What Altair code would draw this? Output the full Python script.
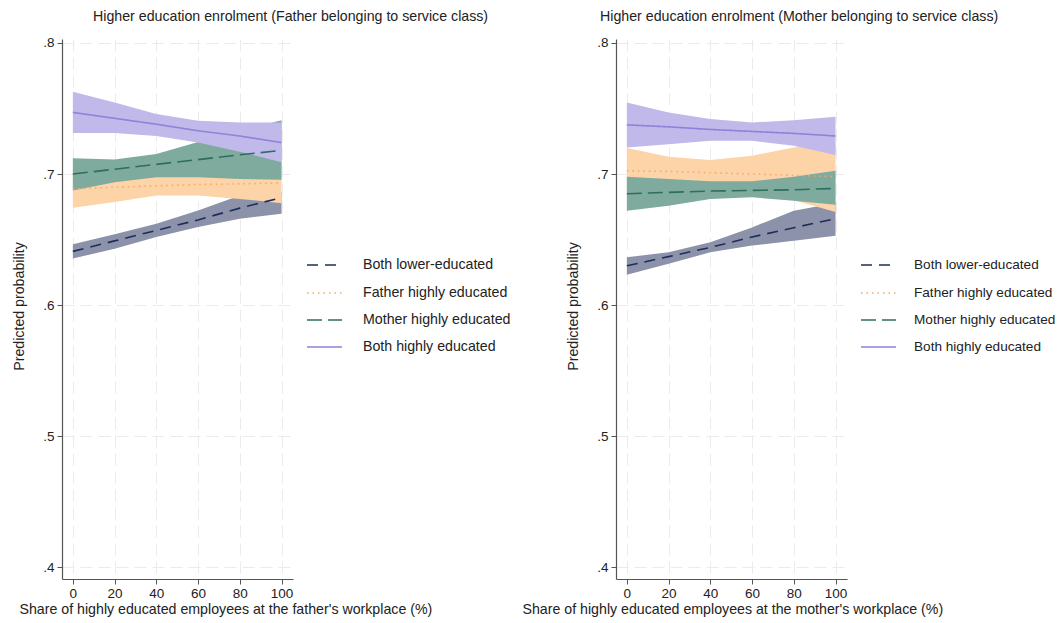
import altair as alt
import pandas as pd

x_vals = [0, 20, 40, 60, 80, 100]
series = ["Both lower-educated", "Father highly educated",
          "Mother highly educated", "Both highly educated"]
y_ticks = [0.4, 0.5, 0.6, 0.7, 0.8]

# Left panel: father belonging to service class
fa_low_mean = [0.641, 0.649, 0.657, 0.665, 0.674, 0.682]
fa_low_lo = [0.6355, 0.6431, 0.652, 0.6596, 0.6659, 0.6697]
fa_low_hi = [0.6464, 0.654, 0.6621, 0.6722, 0.6837, 0.6862]
fa_fat_mean = [0.6887, 0.690, 0.691, 0.692, 0.6925, 0.6933]
fa_fat_lo = [0.6743, 0.6786, 0.6837, 0.6837, 0.681, 0.6778]
fa_fat_hi = [0.703, 0.701, 0.6985, 0.700, 0.704, 0.709]
fa_mot_mean = [0.700, 0.7037, 0.7074, 0.711, 0.7147, 0.718]
fa_mot_lo = [0.6875, 0.6938, 0.6976, 0.6976, 0.6963, 0.6956]
fa_mot_hi = [0.712, 0.711, 0.7153, 0.7245, 0.733, 0.741]
fa_both_mean = [0.747, 0.7425, 0.738, 0.733, 0.729, 0.724]
fa_both_lo = [0.7313, 0.7313, 0.729, 0.724, 0.717, 0.709]
fa_both_hi = [0.7627, 0.7546, 0.7458, 0.7407, 0.7394, 0.7394]

# Right panel: mother belonging to service class
mo_low_mean = [0.630, 0.637, 0.644, 0.652, 0.659, 0.666]
mo_low_lo = [0.6231, 0.6315, 0.6403, 0.6454, 0.6492, 0.653]
mo_low_hi = [0.6365, 0.6403, 0.6479, 0.6593, 0.672, 0.678]
mo_fat_mean = [0.7025, 0.702, 0.701, 0.700, 0.699, 0.698]
mo_fat_lo = [0.686, 0.689, 0.690, 0.687, 0.680, 0.671]
mo_fat_hi = [0.7198, 0.7132, 0.7107, 0.714, 0.7203, 0.724]
mo_mot_mean = [0.685, 0.686, 0.687, 0.6875, 0.688, 0.689]
mo_mot_lo = [0.672, 0.6759, 0.681, 0.6822, 0.6797, 0.6766]
mo_mot_hi = [0.698, 0.6962, 0.6944, 0.6944, 0.698, 0.7025]
mo_both_mean = [0.7375, 0.736, 0.734, 0.7325, 0.731, 0.729]
mo_both_lo = [0.7203, 0.7228, 0.7254, 0.7254, 0.7216, 0.7145]
mo_both_hi = [0.7545, 0.7469, 0.7419, 0.7393, 0.7411, 0.7436]

line_colors = ["#1f2d57", "#f3a869", "#2f6e5d", "#8d83d8"]
band_colors = ["#8b92aa", "#fdd3a8", "#7faa9e", "#c0b9e9"]
dashes = [[11, 7], [1.5, 4], [15, 6], [1, 0]]

FONT = "Liberation Sans"
LEG_ROWS = [226, 254, 281, 308]


def make_df(groups):
    rows = []
    for name, (m, lo, hi) in zip(series, groups):
        for i, xv in enumerate(x_vals):
            rows.append({"x": xv, "series": name, "mean": m[i], "lo": lo[i], "hi": hi[i]})
    return pd.DataFrame(rows)


legend_df = pd.DataFrame({"series": series})


def panel(df, title_text, xtitle, title_dx, xtitle_x, leg_label_x, leg_font):
    xscale = alt.Scale(domain=[-5.2, 105.5], nice=False, zero=False)
    yscale = alt.Scale(domain=[0.3911, 0.803], nice=False, zero=False)
    xaxis = alt.Axis(values=x_vals, title=xtitle, titleX=xtitle_x, titleAnchor="start",
                     titleAlign="left", titleY=23, titleBaseline="top", labelPadding=2)
    yaxis = alt.Axis(values=y_ticks, title="Predicted probability",
                     labelExpr="substring(format(datum.value, '.1f'), 1)",
                     titleX=-43, titleY=267, titleAlign="center", titleBaseline="middle",
                     labelPadding=3)
    fill_scale = alt.Scale(domain=series, range=band_colors)
    color_scale = alt.Scale(domain=series, range=line_colors)
    dash_scale = alt.Scale(domain=series, range=dashes)
    layers = []
    for s in series:
        layers.append(
            alt.Chart(df).transform_filter(alt.datum.series == s).mark_area(opacity=1).encode(
                x=alt.X("x:Q", scale=xscale, axis=xaxis),
                y=alt.Y("lo:Q", scale=yscale, axis=yaxis),
                y2="hi:Q",
                fill=alt.Fill("series:N", scale=fill_scale, legend=None),
            )
        )
    layers.append(
        alt.Chart(df).mark_line(strokeWidth=1.6).encode(
            x=alt.X("x:Q", scale=xscale, axis=xaxis),
            y=alt.Y("mean:Q", scale=yscale, axis=yaxis),
            color=alt.Color("series:N", scale=color_scale, legend=None),
            strokeDash=alt.StrokeDash("series:N", scale=dash_scale, legend=None),
        )
    )
    # legend drawn from the same colour / dash scales
    for s, ry in zip(series, LEG_ROWS):
        base = alt.Chart(legend_df).transform_filter(alt.datum.series == s)
        layers.append(
            base.mark_rule(strokeWidth=1.6).encode(
                x=alt.value(245), x2=alt.value(280), y=alt.value(ry),
                color=alt.Color("series:N", scale=color_scale, legend=None),
                strokeDash=alt.StrokeDash("series:N", scale=dash_scale, legend=None),
            )
        )
        layers.append(
            base.mark_text(align="left", baseline="middle", font=FONT, fontSize=leg_font,
                           color="#222222").encode(
                x=alt.value(leg_label_x), y=alt.value(ry), text="series:N",
            )
        )
    return alt.layer(*layers).properties(
        width=231, height=540,
        title=alt.TitleParams(title_text, anchor="start", frame="group", dx=title_dx, offset=12,
                              fontSize=14.2, fontWeight="normal", font=FONT, color="#222222"),
    )


df_f = make_df([(fa_low_mean, fa_low_lo, fa_low_hi), (fa_fat_mean, fa_fat_lo, fa_fat_hi),
                (fa_mot_mean, fa_mot_lo, fa_mot_hi), (fa_both_mean, fa_both_lo, fa_both_hi)])
df_m = make_df([(mo_low_mean, mo_low_lo, mo_low_hi), (mo_fat_mean, mo_fat_lo, mo_fat_hi),
                (mo_mot_mean, mo_mot_lo, mo_mot_hi), (mo_both_mean, mo_both_lo, mo_both_hi)])

left = panel(df_f, "Higher education enrolment (Father belonging to service class)",
             "Share of highly educated employees at the father's workplace (%)", 31, -43, 301, 14.2)
right = panel(df_m, "Higher education enrolment (Mother belonging to service class)",
              "Share of highly educated employees at the mother's workplace (%)", -16, -94, 298, 13.6)

chart = alt.hconcat(left, right, spacing=323, bounds="flush").resolve_scale(
    x="independent", y="independent", color="independent", strokeDash="independent", fill="independent"
).properties(
    padding={"left": 4, "top": 1, "right": 0, "bottom": 0}
).configure_view(stroke=None).configure_axis(
    labelFont=FONT, titleFont=FONT, labelFontSize=13.5, titleFontSize=14.2,
    labelColor="#222222", titleColor="#222222", titleFontWeight="normal",
    domainColor="#555555", tickColor="#555555", tickSize=5, domainWidth=1.2,
    grid=True, gridColor="#ebebeb", gridDash=[12, 6], gridWidth=1,
)

chart.save("out.html", embed_options={"renderer": "svg", "actions": False})
